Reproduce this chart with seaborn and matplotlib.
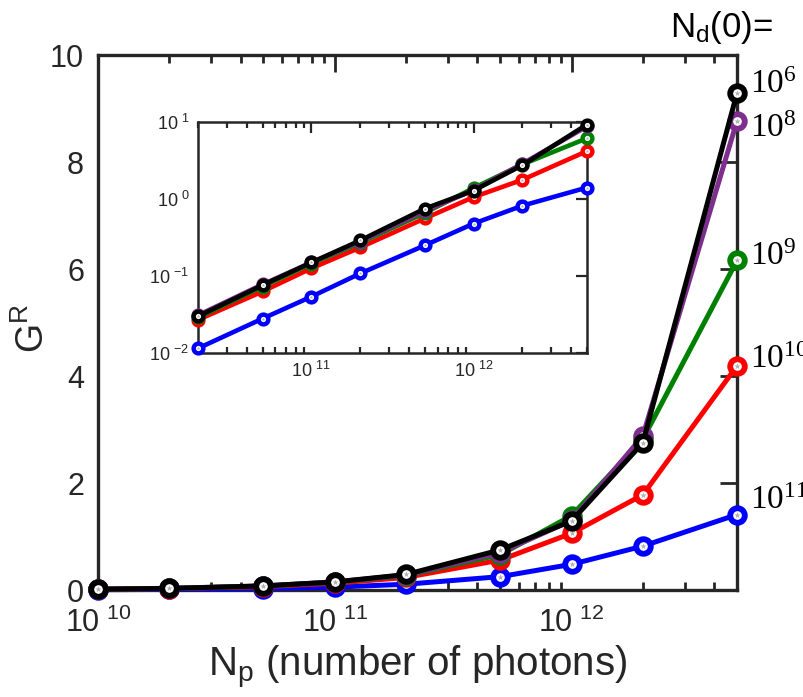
import matplotlib
matplotlib.use("Agg")
import matplotlib.pyplot as plt
import matplotlib.ticker as mticker
import seaborn as sns
import numpy as np
import pandas as pd

# ---------------- data ----------------
photons = [1e10, 2e10, 5e10, 1e11, 2e11, 5e11, 1e12, 2e12, 5e12]
series_labels = ["10^{11}", "10^{10}", "10^{9}", "10^{8}", "10^{6}"]
g_1e11 = [0.006, 0.0115, 0.028, 0.054, 0.108, 0.25, 0.48, 0.82, 1.41]
g_1e10 = [0.013, 0.027, 0.063, 0.126, 0.235, 0.56, 1.06, 1.78, 4.19]
g_1e9 = [0.015, 0.029, 0.073, 0.145, 0.27, 0.66, 1.39, 2.82, 6.16]
g_1e8 = [0.016, 0.031, 0.078, 0.150, 0.28, 0.70, 1.30, 2.88, 8.77]
g_1e6 = [0.015, 0.030, 0.076, 0.150, 0.29, 0.75, 1.29, 2.75, 9.29]
series_values = [g_1e11, g_1e10, g_1e9, g_1e8, g_1e6]
series_colors = ["#0000ff", "#ff0000", "#008000", "#7e2f8e", "#000000"]

main_xticks = [1e10, 1e11, 1e12]
main_xticklabels = [r"$\mathsf{10\ ^{10}}$", r"$\mathsf{10\ ^{11}}$", r"$\mathsf{10\ ^{12}}$"]
main_yticks = [0, 2, 4, 6, 8, 10]
main_yticklabels = ["0", "2", "4", "6", "8", "10"]
inset_xticks = [1e11, 1e12]
inset_xticklabels = [r"$\mathsf{10\ ^{11}}$", r"$\mathsf{10\ ^{12}}$"]
inset_yticks = [1e-2, 1e-1, 1e0, 1e1]
inset_yticklabels = [r"$\mathsf{10\ ^{-2}}$", r"$\mathsf{10\ ^{-1}}$",
                     r"$\mathsf{10\ ^{0}}$", r"$\mathsf{10\ ^{1}}$"]

# ---------------- style ----------------
sns.set_theme(style="white")
plt.rcParams["font.family"] = ["Liberation Sans", "DejaVu Sans"]
plt.rcParams["mathtext.fontset"] = "custom"
plt.rcParams["mathtext.sf"] = "Liberation Sans"
plt.rcParams["mathtext.rm"] = "Liberation Serif"
plt.rcParams["mathtext.it"] = "Liberation Serif:italic"
axcol = "#262626"

fig = plt.figure(figsize=(8.04, 6.97), dpi=100)
ax = fig.add_axes([0.1219, 0.1535, 0.7948, 0.7675])
axi = fig.add_axes([0.2463, 0.4935, 0.4838, 0.3314])

frames = []
for lab, vals in zip(series_labels, series_values):
    frames.append(pd.DataFrame({"Np": photons, "G": vals, "Nd": lab}))
df = pd.concat(frames, ignore_index=True)

def draw(axis, data, lw, ms, mew, star_s, z0):
    for i, (lab, col) in enumerate(zip(series_labels, series_colors)):
        sub = data[data["Nd"] == lab]
        sns.lineplot(data=sub, x="Np", y="G", ax=axis, color=col, lw=lw,
                     marker="o", markersize=ms, markeredgewidth=mew,
                     markeredgecolor=col, markerfacecolor="white",
                     legend=False, zorder=z0 + 2 * i, errorbar=None, clip_on=False)
        sns.scatterplot(data=sub, x="Np", y="G", ax=axis, marker="*",
                        color="#b0b0b0", s=star_s, linewidth=0,
                        legend=False, zorder=z0 + 2 * i + 1, clip_on=False)

# main axes
ax.set_xscale("log")
draw(ax, df, 3.6, 10.5, 4.2, 22, 3)
ax.set_xlim(1e10, 5e12)
ax.set_ylim(0, 10)
ax.set_xticks(main_xticks, main_xticklabels)
ax.set_yticks(main_yticks, main_yticklabels)
ax.xaxis.set_minor_locator(mticker.LogLocator(base=10, subs=np.arange(2, 10), numticks=20))
ax.xaxis.set_minor_formatter(mticker.NullFormatter())
ax.tick_params(axis="both", which="major", direction="in", top=True, right=True,
               length=12, width=2, colors=axcol, labelsize=22, pad=10)
ax.tick_params(axis="x", which="major", pad=13)
ax.tick_params(axis="x", which="minor", direction="in", top=True, bottom=True,
               length=6, width=2, colors=axcol)
for sp in ax.spines.values():
    sp.set_linewidth(2.4)
    sp.set_color(axcol)
    sp.set_visible(True)
ax.set_xlabel(r"$\mathsf{N_p}$ (number of photons)", fontsize=29, color=axcol, labelpad=3)
ax.set_ylabel(r"$\mathsf{G^R}$", fontsize=27, color=axcol)
ax.yaxis.set_label_coords(-0.072, 0.49)

# right-hand labels
label_offsets = [(9, 4.3), (9, -1.5), (9, -3), (9, -11.5), (9, 0)]
for lab, vals, off in zip(series_labels, series_values, label_offsets):
    ax.annotate(r"$\mathrm{" + lab + "}$", xy=(photons[-1], vals[-1]),
                xytext=off, textcoords="offset points", va="baseline", ha="left",
                fontsize=24, color="black", annotation_clip=False)
ax.text(0.895, 1.034, r"$\mathsf{N_d}$(0)=", transform=ax.transAxes,
        fontsize=25, color="black", va="baseline", ha="left")

# inset
axi.set_xscale("log")
axi.set_yscale("log")
dfi = df[df["Np"] >= 2e10]
draw(axi, dfi, 3.3, 7.0, 3.2, 8, 3)
axi.set_xlim(2e10, 5e12)
axi.set_ylim(1e-2, 1e1)
axi.set_xticks(inset_xticks, inset_xticklabels)
axi.set_yticks(inset_yticks, inset_yticklabels)
axi.xaxis.set_minor_locator(mticker.LogLocator(base=10, subs=np.arange(2, 10), numticks=20))
axi.xaxis.set_minor_formatter(mticker.NullFormatter())
axi.yaxis.set_minor_locator(mticker.NullLocator())
axi.tick_params(axis="both", which="major", direction="in", top=True, right=True,
                length=8, width=1.6, colors=axcol, labelsize=13, pad=6)
axi.tick_params(axis="x", which="minor", direction="in", top=True, bottom=True,
                length=4, width=1.6, colors=axcol)
for sp in axi.spines.values():
    sp.set_linewidth(1.8)
    sp.set_color(axcol)
    sp.set_visible(True)
axi.set_xlabel("")
axi.set_ylabel("")
axi.set_facecolor("white")

fig.savefig("out.png", dpi=100)
